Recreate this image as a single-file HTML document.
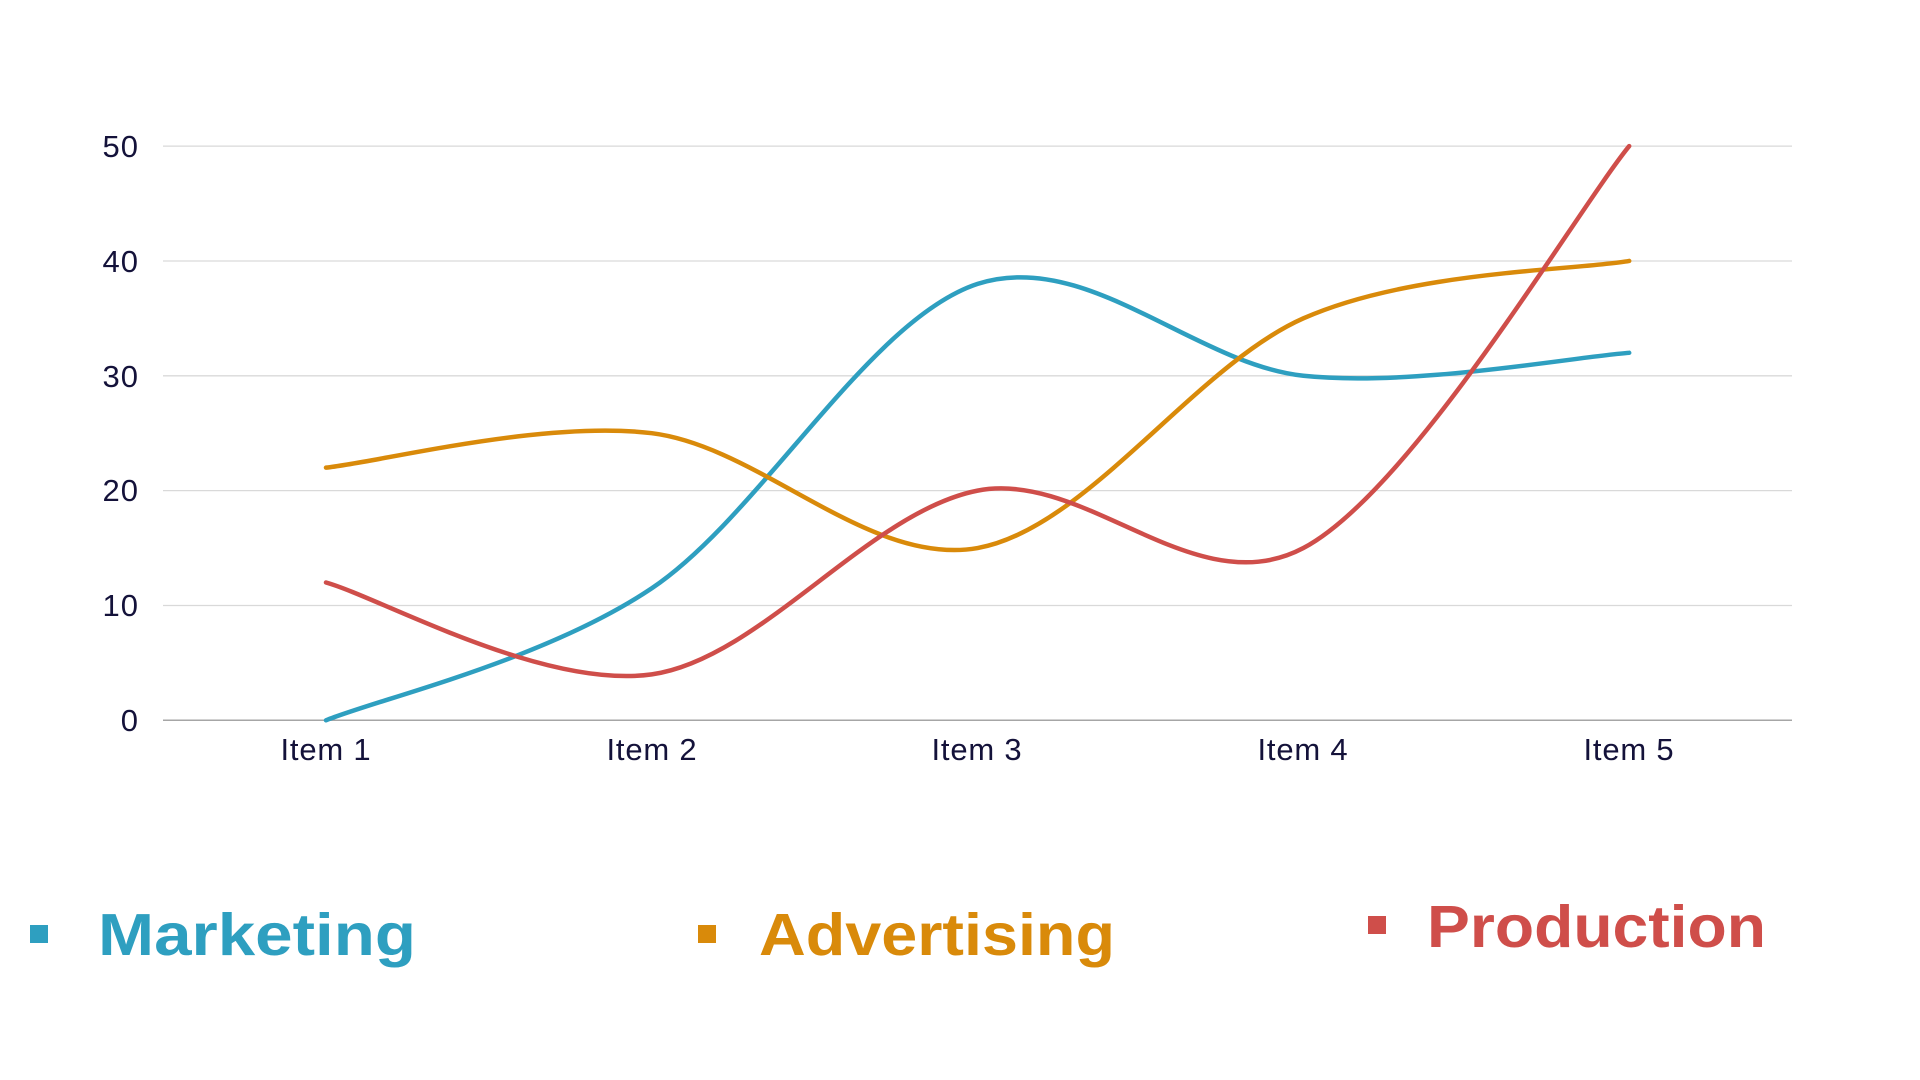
<!DOCTYPE html>
<html><head><meta charset="utf-8"><style>
html,body{margin:0;padding:0;background:#fff;width:1920px;height:1080px;overflow:hidden}
</style></head><body>
<svg id="s" width="1920" height="1080" xmlns="http://www.w3.org/2000/svg" font-family="Liberation Sans, sans-serif">
<g stroke="#d9d9d9" stroke-width="1.3">
<line x1="163" x2="1792" y1="146.1" y2="146.1"/>
<line x1="163" x2="1792" y1="261" y2="261"/>
<line x1="163" x2="1792" y1="375.8" y2="375.8"/>
<line x1="163" x2="1792" y1="490.6" y2="490.6"/>
<line x1="163" x2="1792" y1="605.5" y2="605.5"/>
</g>
<line x1="163" x2="1792" y1="720.3" y2="720.3" stroke="#a6a6a6" stroke-width="1.5"/>
<g fill="#14123a" font-size="31" text-anchor="end" letter-spacing="1">
<text x="139" y="157">50</text>
<text x="139" y="272">40</text>
<text x="139" y="387">30</text>
<text x="139" y="501">20</text>
<text x="139" y="616">10</text>
<text x="139" y="731">0</text>
</g>
<g fill="#14123a" font-size="31" text-anchor="middle" letter-spacing="0.8">
<text x="326" y="760">Item 1</text>
<text x="652" y="760">Item 2</text>
<text x="977" y="760">Item 3</text>
<text x="1303" y="760">Item 4</text>
<text x="1629" y="760">Item 5</text>
</g>
<g id="lines" fill="none" stroke-width="4.5" stroke-linecap="round"></g>
<rect x="30" y="925" width="18" height="18" fill="#2e9fc0"/>
<text x="98" y="955" font-size="59" font-weight="bold" fill="#2e9fc0" textLength="318" lengthAdjust="spacingAndGlyphs">Marketing</text>
<rect x="698" y="925" width="18" height="18" fill="#d98a0a"/>
<text x="759" y="955" font-size="59" font-weight="bold" fill="#d98a0a" textLength="356" lengthAdjust="spacingAndGlyphs">Advertising</text>
<rect x="1368" y="916" width="18" height="18" fill="#cf4e4a"/>
<text x="1427" y="947" font-size="59" font-weight="bold" fill="#cf4e4a" textLength="339" lengthAdjust="spacingAndGlyphs">Production</text>
</svg>
<script>
var series=[["#2e9fc0",[0,11.5,38,30,32]],["#d98a0a",[22,25,15,35,40]],["#cf4e4a",[12,4,20,15,50]]];
var g=document.getElementById("lines");
series.forEach(function(s){
 var p=s[1].map(function(v,i){return [326+325.8*i,720.3-v*11.484];});
 var d="M"+p[0][0]+","+p[0][1];
 for(var i=0;i<p.length-1;i++){
  var p0=p[Math.max(i-1,0)],p1=p[i],p2=p[i+1],p3=p[Math.min(i+2,p.length-1)];
  var t=1/6;
  d+=" C"+(p1[0]+(p2[0]-p0[0])*t)+","+(p1[1]+(p2[1]-p0[1])*t)+" "+(p2[0]-(p3[0]-p1[0])*t)+","+(p2[1]-(p3[1]-p1[1])*t)+" "+p2[0]+","+p2[1];
 }
 var e=document.createElementNS("http://www.w3.org/2000/svg","path");
 e.setAttribute("d",d);e.setAttribute("stroke",s[0]);g.appendChild(e);
});
</script>
</body></html>
